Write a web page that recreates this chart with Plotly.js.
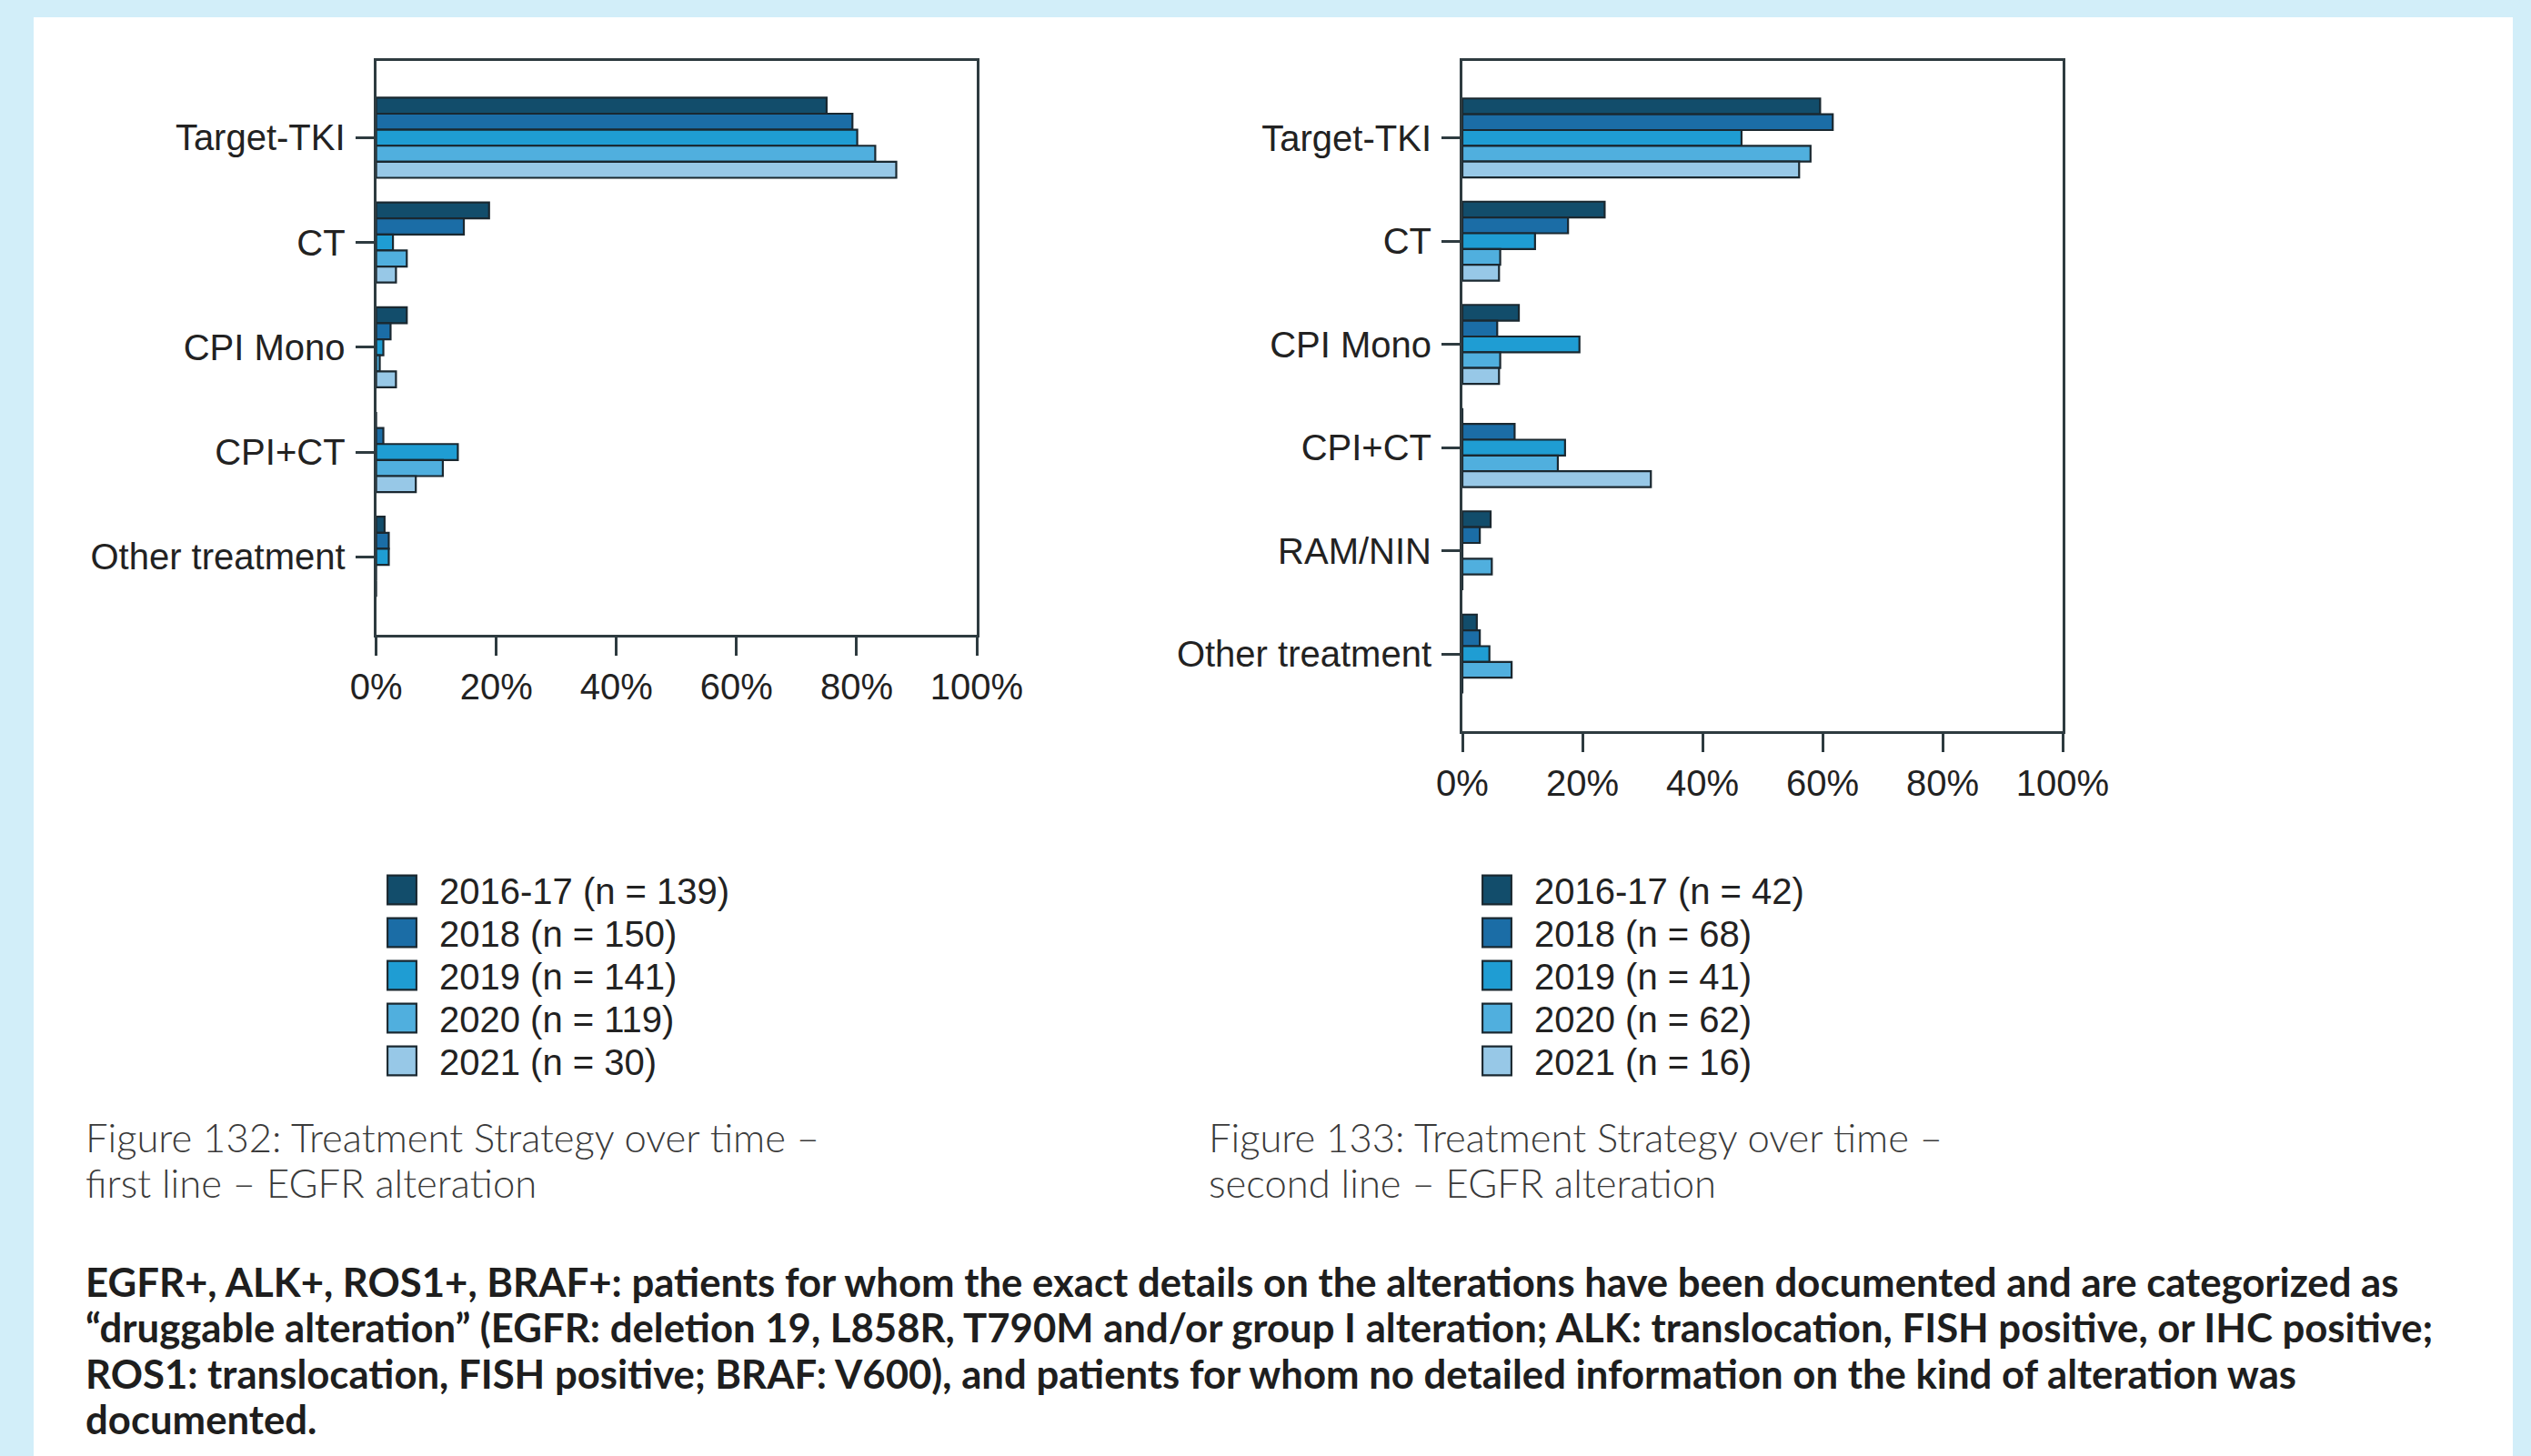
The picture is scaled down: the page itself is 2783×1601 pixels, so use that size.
<!DOCTYPE html>
<html>
<head>
<meta charset="utf-8">
<script src="https://cdn.plot.ly/plotly-3.0.1.min.js"></script>
<style>
  html, body { margin: 0; padding: 0; background: #d2eef9; }
  #chart { width: 2783px; height: 1601px; }
</style>
</head>
<body>
<div id="chart"></div>
<script>
// ---------------- DATA ----------------
const seriesNames = ['2016-17', '2018', '2019', '2020', '2021'];
const leftN  = [139, 150, 141, 119, 30];
const rightN = [42, 68, 41, 62, 16];

const leftCategories  = ['Target-TKI', 'CT', 'CPI Mono', 'CPI+CT', 'Other treatment'];
const rightCategories = ['Target-TKI', 'CT', 'CPI Mono', 'CPI+CT', 'RAM/NIN', 'Other treatment'];

// first line (percent), one array per period, in leftCategories order
const left2016_17 = [75.0, 18.8, 5.1, 0.0, 1.4];
const left2018    = [79.3, 14.6, 2.4, 1.2, 2.1];
const left2019    = [80.1, 2.8, 1.2, 13.6, 2.1];
const left2020    = [83.1, 5.1, 0.6, 11.1, 0.0];
const left2021    = [86.6, 3.3, 3.3, 6.6, 0.0];

// second line (percent), in rightCategories order
const right2016_17 = [59.6, 23.7, 9.4, 0.0, 4.7, 2.4];
const right2018    = [61.7, 17.6, 5.8, 8.7, 2.9, 2.9];
const right2019    = [46.5, 12.1, 19.5, 17.1, 0.0, 4.5];
const right2020    = [58.0, 6.3, 6.3, 15.9, 4.9, 8.2];
const right2021    = [56.1, 6.1, 6.1, 31.4, 0.0, 0.0];

const xTickValues = [0, 20, 40, 60, 80, 100];
const xTickLabels = ['0%', '20%', '40%', '60%', '80%', '100%'];

const captionLeftLines  = ['Figure 132: Treatment Strategy over time –', 'first line – EGFR alteration'];
const captionRightLines = ['Figure 133: Treatment Strategy over time –', 'second line – EGFR alteration'];
const footnoteLines = [
  'EGFR+, ALK+, ROS1+, BRAF+: patients for whom the exact details on the alterations have been documented and are categorized as',
  '“druggable alteration” (EGFR: deletion 19, L858R, T790M and/or group I alteration; ALK: translocation, FISH positive, or IHC positive;',
  'ROS1: translocation, FISH positive; BRAF: V600), and patients for whom no detailed information on the kind of alteration was',
  'documented.'
];

// ---------------- STYLE ----------------
const colors = ['#124d6b', '#1b6da6', '#1f9dd3', '#50afde', '#97c8e7'];
const outline = '#1a2830';
const axisColor = '#2e3b40';
const W = 2783, H = 1601;
const px = v => v / W;
const py = v => 1 - v / H;

const leftValues  = [left2016_17, left2018, left2019, left2020, left2021];
const rightValues = [right2016_17, right2018, right2019, right2020, right2021];

const traces = [];
seriesNames.forEach((name, i) => {
  traces.push({
    type: 'bar', orientation: 'h',
    x: leftValues[i], y: leftCategories,
    xaxis: 'x', yaxis: 'y',
    name: name + ' (n = ' + leftN[i] + ')',
    legend: 'legend',
    marker: { color: colors[i], line: { color: outline, width: 2.2 } },
    hoverinfo: 'skip'
  });
});
seriesNames.forEach((name, i) => {
  traces.push({
    type: 'bar', orientation: 'h',
    x: rightValues[i], y: rightCategories,
    xaxis: 'x2', yaxis: 'y2',
    name: name + ' (n = ' + rightN[i] + ')',
    legend: 'legend2',
    marker: { color: colors[i], line: { color: outline, width: 2.2 } },
    hoverinfo: 'skip'
  });
});

const tickFont = { family: 'Liberation Sans, Arial, sans-serif', size: 40, color: '#222222' };

function xAxis(domain, anchor) {
  return {
    domain: domain, anchor: anchor, range: [0, 100],
    tickvals: xTickValues, ticktext: xTickLabels,
    ticks: 'outside', ticklen: 20, tickwidth: 3, tickcolor: axisColor,
    showline: true, linecolor: axisColor, linewidth: 3, mirror: true,
    showgrid: false, zeroline: false, fixedrange: true,
    tickfont: tickFont, ticklabelstandoff: 0
  };
}
function yAxis(domain, anchor, range) {
  return {
    domain: domain, anchor: anchor, type: 'category', range: range,
    ticks: 'outside', ticklen: 20, tickwidth: 3, tickcolor: axisColor,
    showline: true, linecolor: axisColor, linewidth: 3, mirror: true,
    showgrid: false, zeroline: false, fixedrange: true,
    tickfont: tickFont, ticklabelstandoff: 3
  };
}

const legendBase = {
  orientation: 'v', xanchor: 'left', yanchor: 'top',
  font: { family: 'Liberation Sans, Arial, sans-serif', size: 40, color: '#222222' },
  bgcolor: 'rgba(0,0,0,0)', borderwidth: 0, itemwidth: 50,
  traceorder: 'normal', itemclick: false, itemdoubleclick: false
};

const annotations = [];
function addLines(lines, x, y0, step, font) {
  lines.forEach((t, i) => annotations.push({
    xref: 'paper', yref: 'paper', x: px(x), y: py(y0 + i * step),
    xanchor: 'left', yanchor: 'middle', align: 'left', showarrow: false,
    text: t, font: font
  }));
}
const captionFont = { family: 'Lato, sans-serif', size: 43.6, color: '#3a3a3a', weight: 300 };
const footFont = { family: 'Lato, sans-serif', size: 43.7, color: '#1e1e1e', weight: 700 };
addLines(captionLeftLines, 92, 1250, 50, captionFont);
addLines(captionRightLines, 1327, 1250, 50, captionFont);
addLines(footnoteLines, 92, 1409, 50.3, footFont);

const layout = {
  width: W, height: H,
  margin: { l: 0, r: 0, t: 0, b: 0, pad: 0 },
  paper_bgcolor: '#d2eef9', plot_bgcolor: '#ffffff',
  barmode: 'group', bargap: 0.235, bargroupgap: 0,
  showlegend: true,
  xaxis: xAxis([px(413.6), px(1074)], 'y'),
  yaxis: yAxis([py(698), py(67)], 'x', [4.744, -0.733]),
  xaxis2: xAxis([px(1608), px(2268)], 'y2'),
  yaxis2: yAxis([py(803.5), py(67)], 'x2', [5.743, -0.746]),
  legend: Object.assign({}, legendBase, { x: px(423), y: py(946) }),
  legend2: Object.assign({}, legendBase, { x: px(1627), y: py(946) }),
  shapes: [{
    type: 'rect', xref: 'paper', yref: 'paper', layer: 'below',
    x0: px(37), x1: px(2763), y0: -0.01, y1: py(19),
    fillcolor: '#ffffff', line: { width: 0 }
  }],
  annotations: annotations
};

Plotly.newPlot('chart', traces, layout, { staticPlot: true, displayModeBar: false }).then(gd => {
  // legend rows a little tighter than Plotly's default, and larger swatches
  gd.querySelectorAll('g.legend, g.legend2').forEach(leg => {
    const rows = leg.querySelectorAll('.traces');
    if (!rows.length) return;
    const m = /translate\(\s*([-\d.]+)[ ,]+([-\d.]+)/.exec(rows[0].getAttribute('transform') || '');
    const x0 = m ? parseFloat(m[1]) : 0;
    const y0 = m ? parseFloat(m[2]) : 0;
    rows.forEach((tr, i) => tr.setAttribute('transform', 'translate(' + x0 + ',' + (y0 + i * 47) + ')'));
  });
  gd.querySelectorAll('.legendpoints path').forEach(p => {
    p.setAttribute('transform', 'translate(19,0) scale(2.65)');
    p.style.strokeWidth = '0.8px';
  });
});
</script>
</body>
</html>
